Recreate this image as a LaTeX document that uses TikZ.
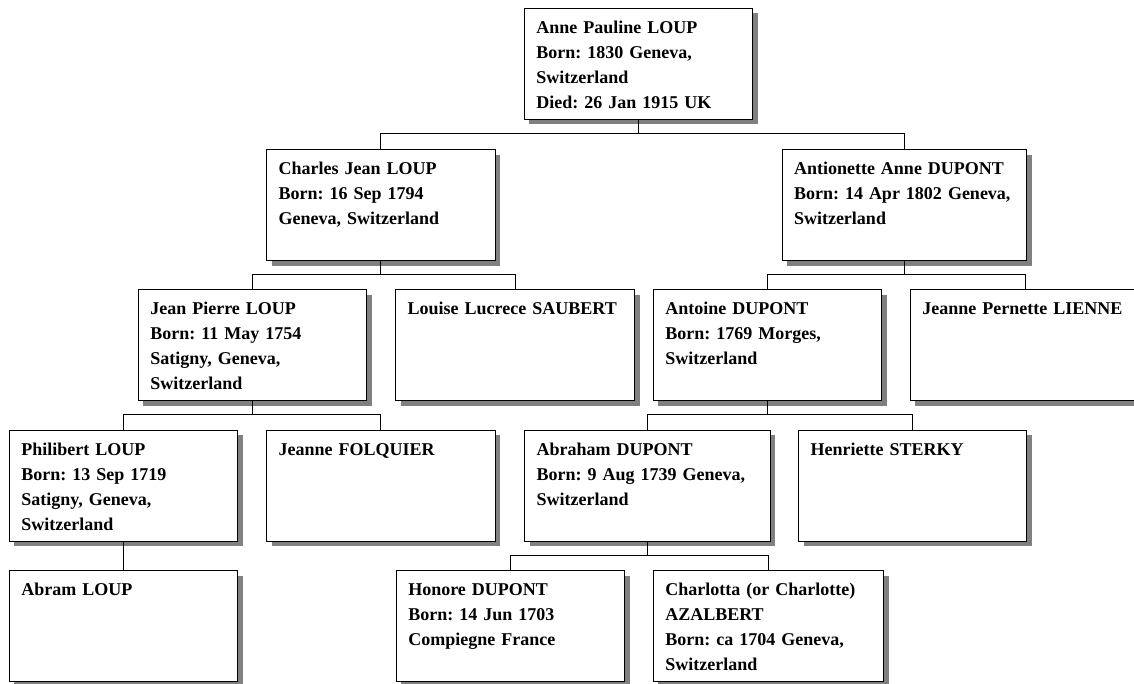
\documentclass[tikz,border=0pt]{standalone}
\usepackage{fontspec}
\setmainfont{Liberation Serif}
\usetikzlibrary{shadows}

\tikzset{
  person/.style={draw, line width=1pt, fill=white, anchor=north west,
    inner xsep=12pt, inner ysep=0pt, outer sep=0pt,
    text width=204.4pt, text height=25pt, text depth=86pt, align=left,
    font=\bfseries\fontsize{18}{25}\selectfont\frenchspacing,
    drop shadow={shadow xshift=5pt, shadow yshift=-5pt, fill=black!50, opacity=1}},
  link/.style={line width=1pt}
}

\begin{document}
\begin{tikzpicture}[x=1pt, y=-1pt]
    \useasboundingbox (0,0) rectangle (1134,683);
    \clip (0,0) rectangle (1134,683);

    % Root
    \node[person] (anne) at (524.3,8.3) {Anne Pauline LOUP\\Born: 1830 Geneva,\\Switzerland\\Died: 26 Jan 1915 UK};

    % Parents
    \node[person] (charles) at (266.7,149.5) {Charles Jean LOUP\\Born: 16 Sep 1794\\Geneva, Switzerland};
    \node[person, text width=220.7pt] (antionette) at (782,149.5) {Antionette Anne DUPONT\\Born: 14 Apr 1802 Geneva,\\Switzerland};

    % Grandparents
    \node[person] (jeanpierre) at (138.3,289.6) {Jean Pierre LOUP\\Born: 11 May 1754\\Satigny, Geneva,\\Switzerland};
    \node[person, text width=215pt] (louise) at (395.7,289.6) {Louise Lucrece SAUBERT};
    \node[person] (antoine) at (653.3,289.6) {Antoine DUPONT\\Born: 1769 Morges,\\Switzerland};
    \node[person, text width=206pt] (pernette) at (910.3,289.6) {Jeanne Pernette LIENNE};

    % Great-grandparents
    \node[person] (philibert) at (9.3,430) {Philibert LOUP\\Born: 13 Sep 1719\\Satigny, Geneva,\\Switzerland};
    \node[person] (folquier) at (266.7,430) {Jeanne FOLQUIER};
    \node[person, text width=221.6pt] (abraham) at (524.7,430) {Abraham DUPONT\\Born: 9 Aug 1739 Geneva,\\Switzerland};
    \node[person, text width=204pt] (henriette) at (798.7,430) {Henriette STERKY};

    % Great-great-grandparents
    \node[person] (abram) at (9.3,570.5) {Abram LOUP};
    \node[person] (honore) at (396.3,570.5) {Honore DUPONT\\Born: 14 Jun 1703\\Compiegne France};
    \node[person, text width=206.4pt] (charlotta) at (653.3,570.5) {Charlotta (or Charlotte)\\AZALBERT\\Born: ca 1704 Geneva,\\Switzerland};

    % Links to parents
    \draw[link] (anne.south) -- ++(0,14.3) -| (charles.north);
    \draw[link] (anne.south) -- ++(0,14.3) -| (antionette.north);
    \draw[link] (charles.south) -- ++(0,14.3) -| (jeanpierre.north);
    \draw[link] (charles.south) -- ++(0,14.3) -| (louise.north);
    \draw[link] (antionette.south) -- ++(0,14.3) -| (antoine.north);
    \draw[link] (antionette.south) -- ++(0,14.3) -| (pernette.north);
    \draw[link] (jeanpierre.south) -- ++(0,14.3) -| (philibert.north);
    \draw[link] (jeanpierre.south) -- ++(0,14.3) -| (folquier.north);
    \draw[link] (antoine.south) -- ++(0,14.3) -| (abraham.north);
    \draw[link] (antoine.south) -- ++(0,14.3) -| (henriette.north);
    \draw[link] (philibert.south) -- (abram.north);
    \draw[link] (abraham.south) -- ++(0,14.3) -| (honore.north);
    \draw[link] (abraham.south) -- ++(0,14.3) -| (charlotta.north);
\end{tikzpicture}
\end{document}
